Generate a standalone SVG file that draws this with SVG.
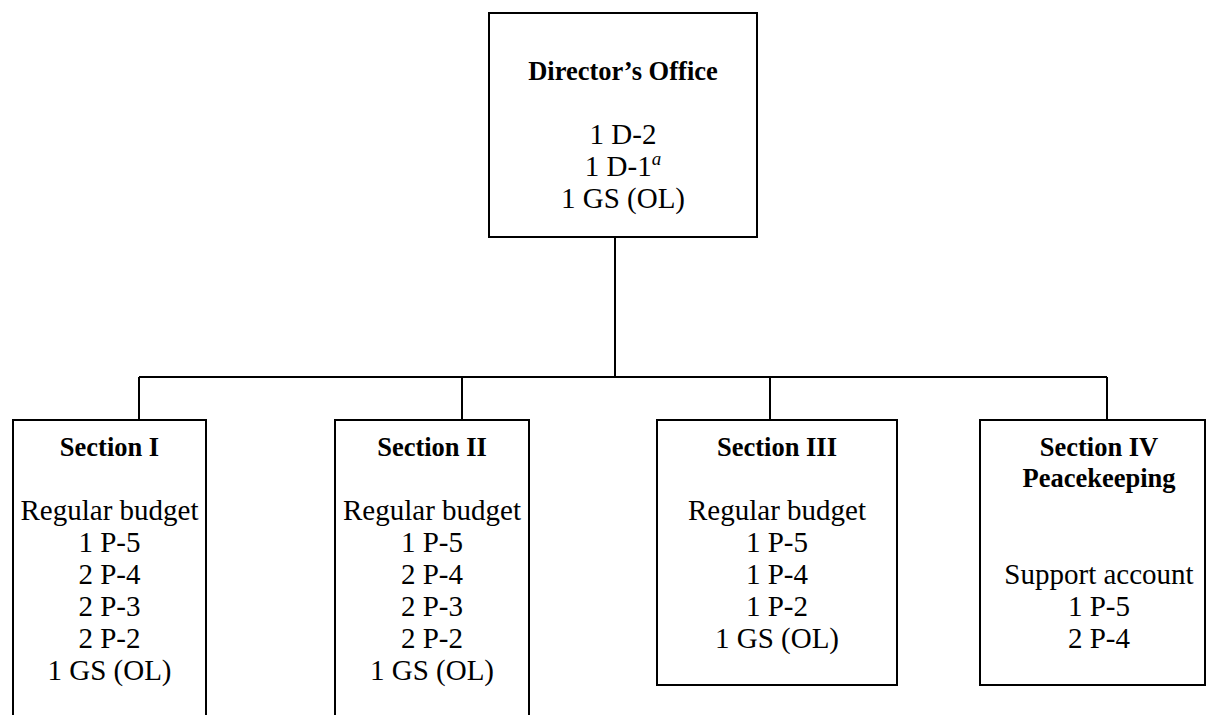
<svg xmlns="http://www.w3.org/2000/svg" width="1206" height="715" viewBox="0 0 1206 715">
<style>
.box{fill:#fff;stroke:#000;stroke-width:2}
.ln{fill:none;stroke:#000;stroke-width:2}
text{font-family:"Liberation Serif","Times New Roman",serif;font-size:29px;fill:#000;text-anchor:middle}
.b{font-weight:bold;font-size:26.5px}
.sup{font-style:italic;font-size:19px}
</style>
<rect width="1206" height="715" fill="#fff"/>
<g id="connectors">
<path class="ln" d="M615 237V377M139 377H1107M139 377V420M462 377V420M770 377V420M1107 377V420"/>
</g>
<g id="director">
<rect class="box" x="489" y="13" width="268" height="224"/>
<text class="b" x="623" y="80">Director’s Office</text>
<text x="623" y="144">1 D-2</text>
<text x="623" y="176">1 D-1<tspan class="sup" dy="-11">a</tspan></text>
<text x="623" y="208">1 GS (OL)</text>
</g>
<g id="section1">
<rect class="box" x="13" y="420" width="193" height="310"/>
<text class="b" x="109.5" y="456">Section I</text>
<text x="109.5" y="520">Regular budget</text>
<text x="109.5" y="552">1 P-5</text>
<text x="109.5" y="584">2 P-4</text>
<text x="109.5" y="616">2 P-3</text>
<text x="109.5" y="648">2 P-2</text>
<text x="109.5" y="680">1 GS (OL)</text>
</g>
<g id="section2">
<rect class="box" x="335" y="420" width="194" height="310"/>
<text class="b" x="432" y="456">Section II</text>
<text x="432" y="520">Regular budget</text>
<text x="432" y="552">1 P-5</text>
<text x="432" y="584">2 P-4</text>
<text x="432" y="616">2 P-3</text>
<text x="432" y="648">2 P-2</text>
<text x="432" y="680">1 GS (OL)</text>
</g>
<g id="section3">
<rect class="box" x="657" y="420" width="240" height="265"/>
<text class="b" x="777" y="456">Section III</text>
<text x="777" y="520">Regular budget</text>
<text x="777" y="552">1 P-5</text>
<text x="777" y="584">1 P-4</text>
<text x="777" y="616">1 P-2</text>
<text x="777" y="648">1 GS (OL)</text>
</g>
<g id="section4">
<rect class="box" x="980" y="420" width="225" height="265"/>
<text class="b" x="1099" y="456">Section IV</text>
<text class="b" x="1099" y="487">Peacekeeping</text>
<text x="1099" y="584">Support account</text>
<text x="1099" y="616">1 P-5</text>
<text x="1099" y="648">2 P-4</text>
</g>
</svg>
